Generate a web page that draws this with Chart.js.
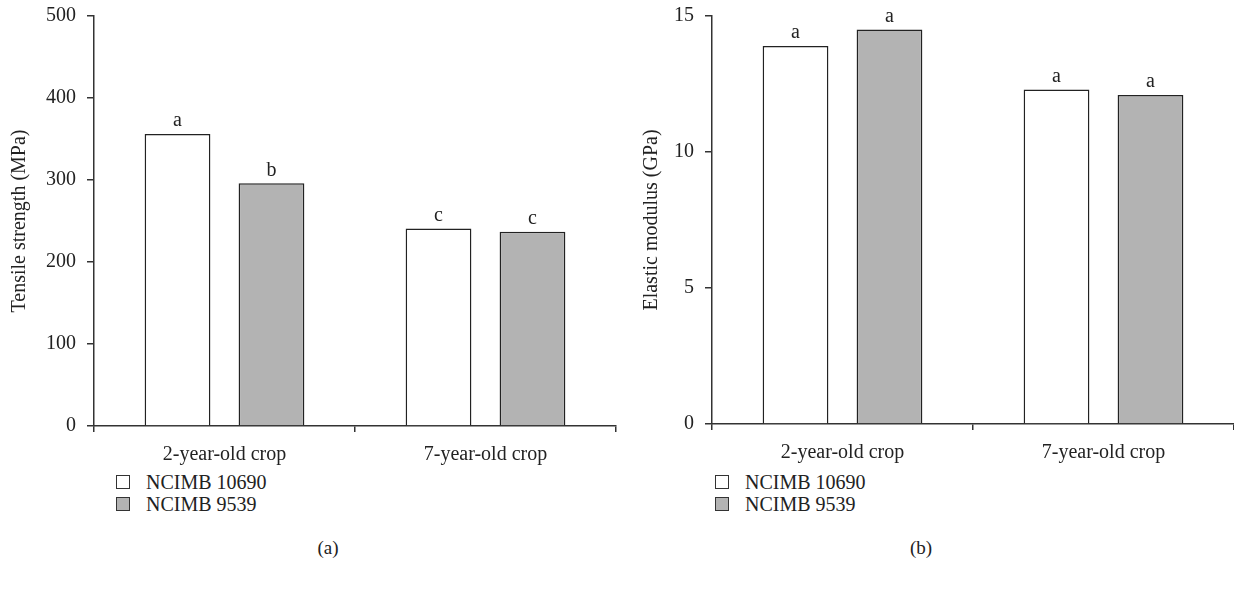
<!DOCTYPE html>
<html>
<head>
<meta charset="utf-8">
<script src="https://cdn.jsdelivr.net/npm/chart.js@4"></script>
<style>
    body { margin: 0; background: #fff; font-family: 'Liberation Serif', 'DejaVu Serif', serif; color: #222; }
    .panel { position: absolute; top: 0; width: 617px; height: 470px; }
    .legend { position: absolute; font-size: 20px; line-height: 22px; }
    .legend div { display: flex; align-items: center; height: 22px; }
    .legend span.box { display: inline-block; width: 12px; height: 12px; border: 1.5px solid #333; margin-right: 16px; }
    .caption { position: absolute; top: 537px; font-size: 19px; width: 60px; text-align: center; }
</style>
</head>
<body>

<div class="panel" style="left:0"><canvas id="chartTensile" width="617" height="470"></canvas></div>
<div class="panel" style="left:617px"><canvas id="chartModulus" width="617" height="470"></canvas></div>

<div class="legend" style="left:116px; top:471px">
    <div><span class="box" style="background:#fff"></span>NCIMB 10690</div>
    <div><span class="box" style="background:#b3b3b3"></span>NCIMB 9539</div>
</div>
<div class="legend" style="left:715px; top:471px">
    <div><span class="box" style="background:#fff"></span>NCIMB 10690</div>
    <div><span class="box" style="background:#b3b3b3"></span>NCIMB 9539</div>
</div>
<div class="caption" style="left:298px">(a)</div>
<div class="caption" style="left:891px">(b)</div>

<script>
// data
const categories = ['2-year-old crop', '7-year-old crop'];
const seriesNames = ['NCIMB 10690', 'NCIMB 9539'];

const tensile10690 = [356, 241];
const tensile9539 = [296, 237];
const tensileLetters10690 = ['a', 'c'];
const tensileLetters9539 = ['b', 'c'];

const modulus10690 = [13.9, 12.3];
const modulus9539 = [14.5, 12.1];
const modulusLetters10690 = ['a', 'a'];
const modulusLetters9539 = ['a', 'a'];

const fontFamily = "'Liberation Serif', 'DejaVu Serif', serif";
const lineColor = '#333';

// letters above every bar
const letterPlugin = {
    id: 'letters',
    afterDatasetsDraw(chart) {
        const ctx = chart.ctx;
        ctx.save();
        ctx.font = '20px ' + fontFamily;
        ctx.fillStyle = '#222';
        ctx.textAlign = 'center';
        ctx.textBaseline = 'bottom';
        chart.data.datasets.forEach((ds, i) => {
            chart.getDatasetMeta(i).data.forEach((bar, j) => {
                ctx.fillText(ds.letters[j], bar.x, bar.y - 3);
            });
        });
        ctx.restore();
    }
};

function makeOptions(yTitle, yMax, yStep, yWidth, xHeight, titlePad, padRight, padTop) {
    return {
        responsive: false,
        animation: false,
        layout: { padding: { left: 0, right: padRight, top: padTop, bottom: 0 } },
        plugins: { legend: { display: false }, tooltip: { enabled: false } },
        scales: {
            x: {
                grid: { drawOnChartArea: false, drawTicks: true, tickLength: 6, color: lineColor, lineWidth: 1.5, offset: true },
                border: { color: lineColor, width: 1.5 },
                ticks: { color: '#222', padding: 11, font: { family: fontFamily, size: 20 } },
                afterFit: (scale) => { scale.height = xHeight; }
            },
            y: {
                min: 0,
                max: yMax,
                ticks: { stepSize: yStep, color: '#222', padding: 11, font: { family: fontFamily, size: 20 } },
                grid: { drawOnChartArea: false, drawTicks: true, tickLength: 7, color: lineColor, lineWidth: 1.5 },
                border: { color: lineColor, width: 1.5 },
                title: { display: true, text: yTitle, color: '#222', padding: { top: titlePad, bottom: 0 }, font: { family: fontFamily, size: 20 } },
                afterFit: (scale) => {
                    scale.width = yWidth;
                    scale.paddingTop = 0;
                    scale.paddingBottom = 0;
                }
            }
        }
    };
}

let tensileCtx = document.getElementById('chartTensile');
if (tensileCtx) {
    tensileCtx = tensileCtx.getContext('2d');
    new Chart(tensileCtx, {
        type: 'bar',
        data: {
            labels: categories,
            datasets: [{
                label: seriesNames[0],
                data: tensile10690,
                letters: tensileLetters10690,
                backgroundColor: '#ffffff',
                borderColor: '#222',
                borderWidth: 1.5,
                categoryPercentage: 0.72,
                barPercentage: 0.7
            }, {
                label: seriesNames[1],
                data: tensile9539,
                letters: tensileLetters9539,
                backgroundColor: '#b3b3b3',
                borderColor: '#222',
                borderWidth: 1.5,
                categoryPercentage: 0.72,
                barPercentage: 0.7
            }]
        },
        options: makeOptions('Tensile strength (MPa)', 500, 100, 94, 44, 8, 1, 16),
        plugins: [letterPlugin]
    });
}

let modulusCtx = document.getElementById('chartModulus');
if (modulusCtx) {
    modulusCtx = modulusCtx.getContext('2d');
    new Chart(modulusCtx, {
        type: 'bar',
        data: {
            labels: categories,
            datasets: [{
                label: seriesNames[0],
                data: modulus10690,
                letters: modulusLetters10690,
                backgroundColor: '#ffffff',
                borderColor: '#222',
                borderWidth: 1.5,
                categoryPercentage: 0.72,
                barPercentage: 0.7
            }, {
                label: seriesNames[1],
                data: modulus9539,
                letters: modulusLetters9539,
                backgroundColor: '#b3b3b3',
                borderColor: '#222',
                borderWidth: 1.5,
                categoryPercentage: 0.72,
                barPercentage: 0.7
            }]
        },
        options: makeOptions('Elastic modulus (GPa)', 15, 5, 95, 46, 23, 0, 16),
        plugins: [letterPlugin]
    });
}
</script>
</body>
</html>
